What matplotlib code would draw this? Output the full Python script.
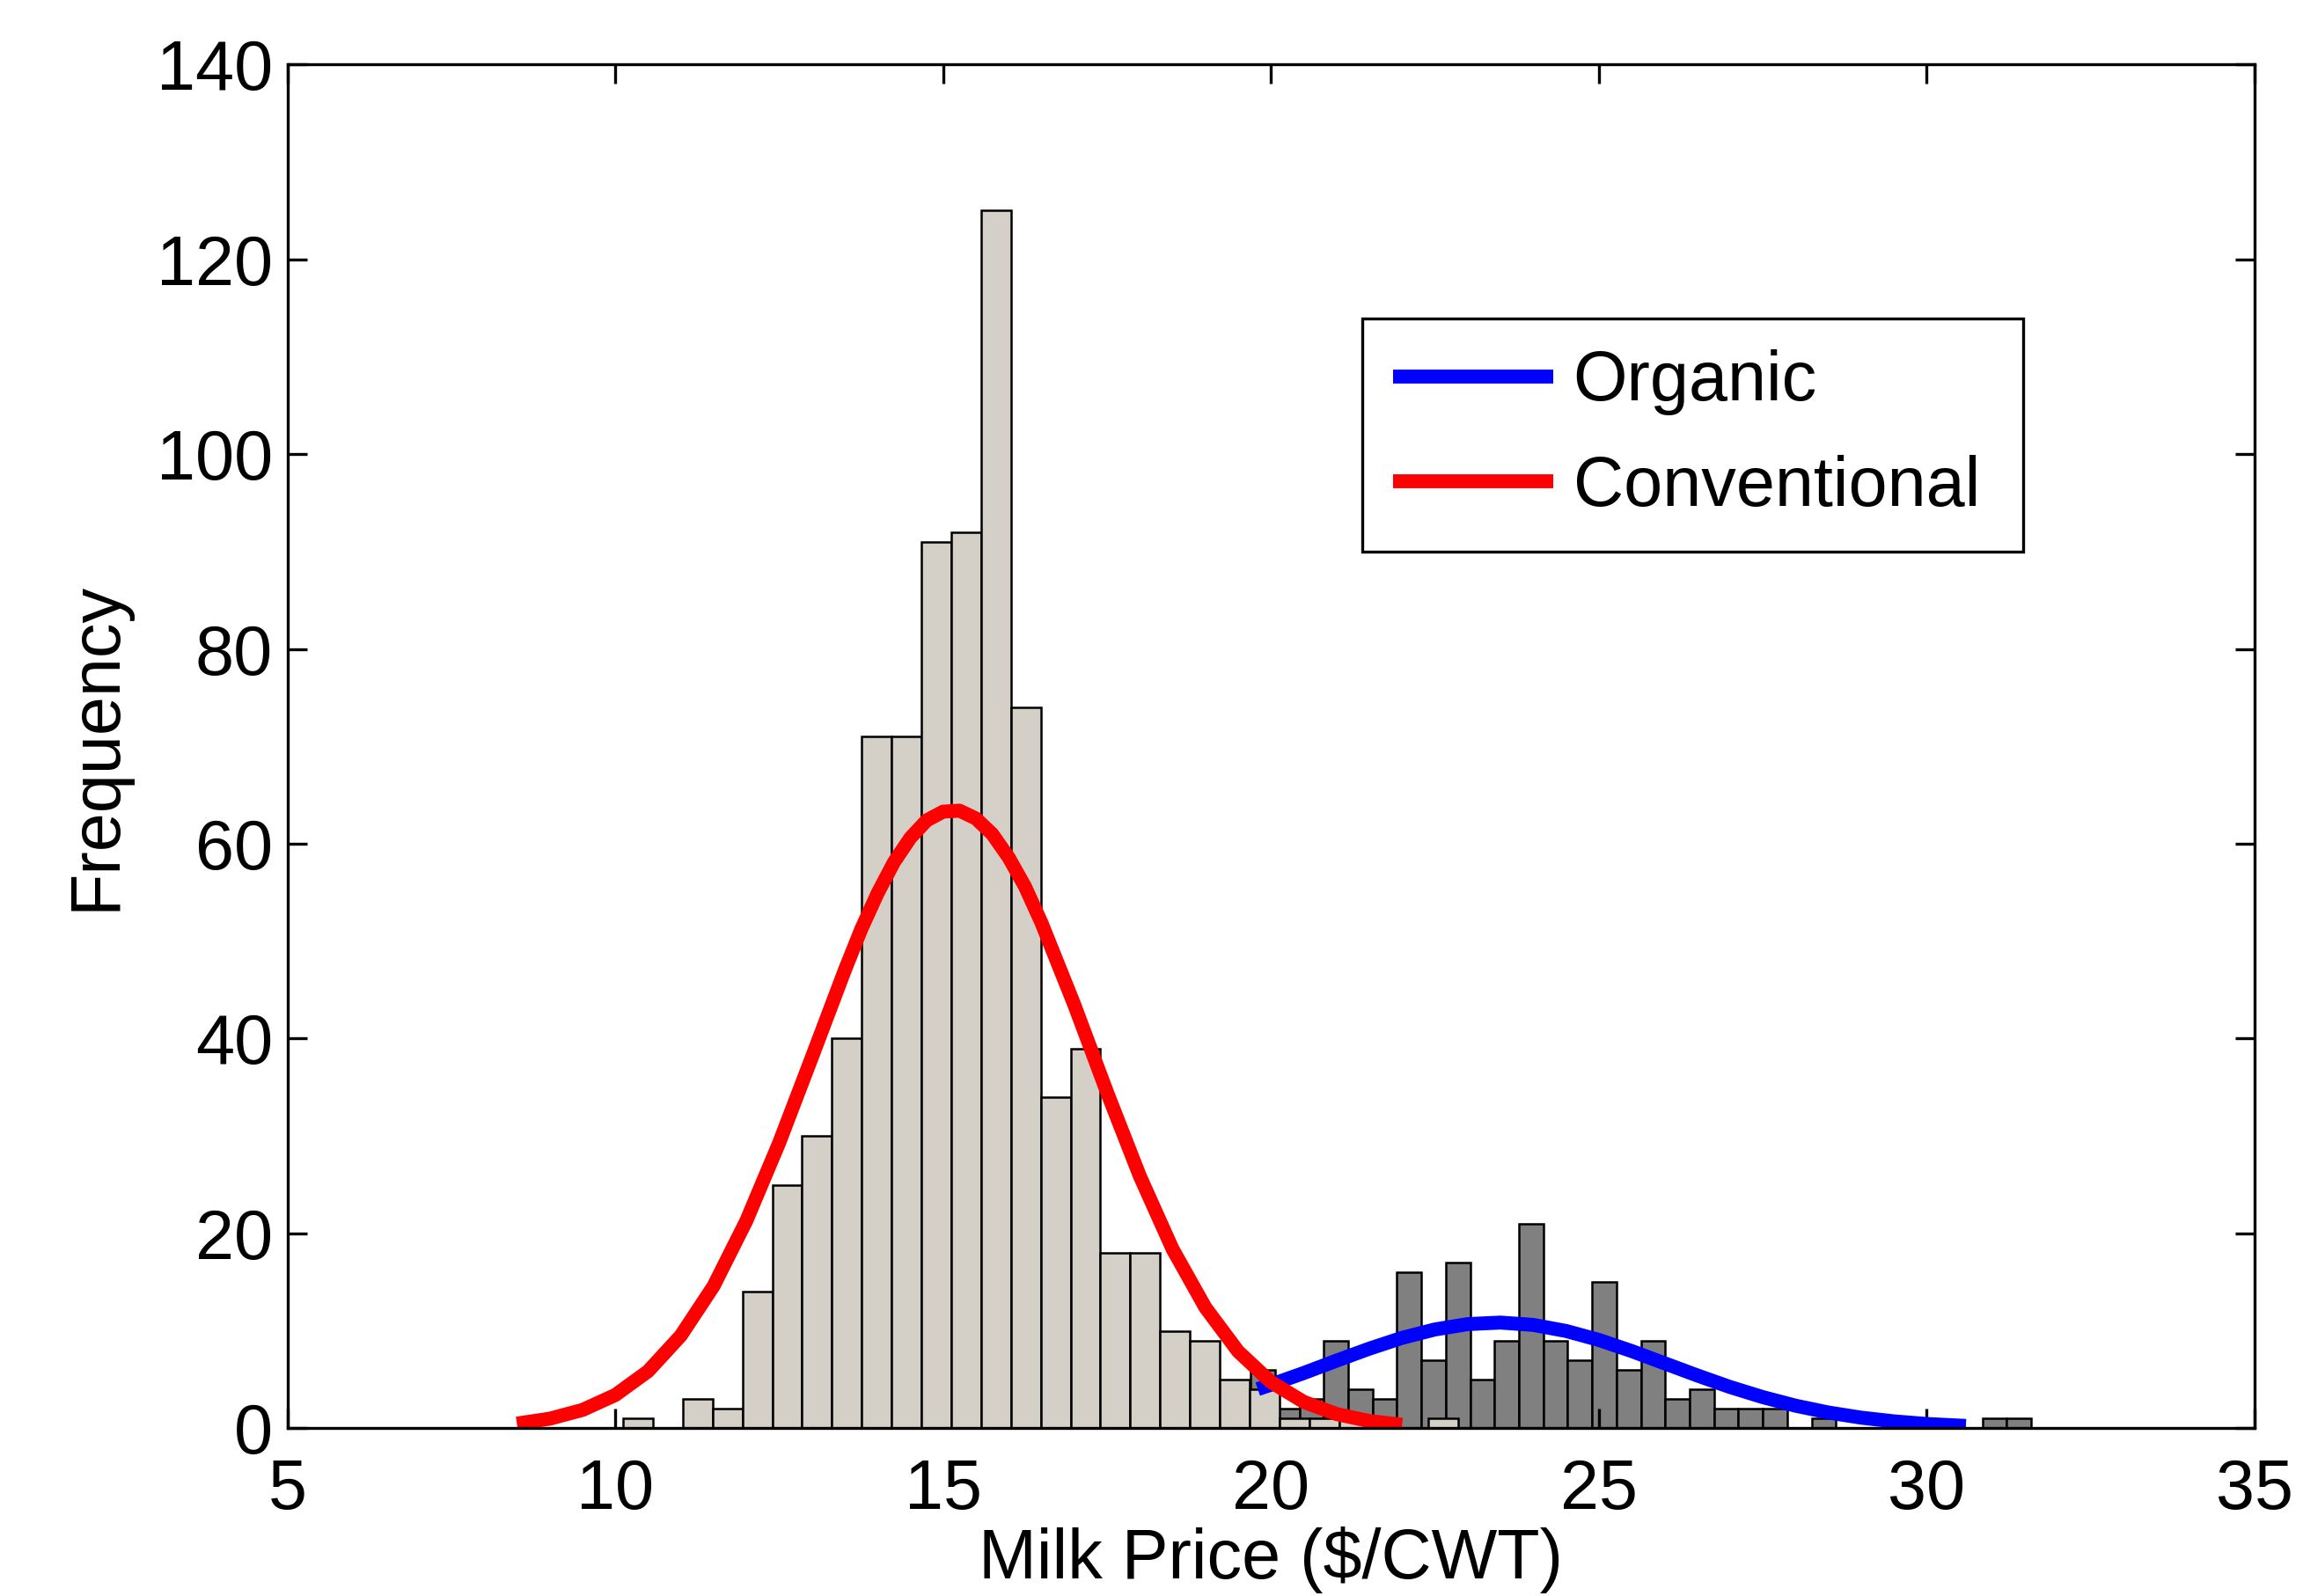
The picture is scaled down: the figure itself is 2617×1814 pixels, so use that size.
import matplotlib
matplotlib.use('Agg')
import matplotlib.pyplot as plt
import numpy as np

# histogram counts
conv_first_edge = 10.12
conv_bin_width = 0.455
conv_counts = [1, 0, 3, 2, 14, 25, 30, 40, 71, 71, 91, 92, 125, 74, 34, 39,
               18, 18, 10, 9, 5, 4, 1, 1, 1, 0, 0, 1]

org_first_edge = 19.69
org_bin_width = 0.372
org_counts = [6, 2, 3, 9, 4, 3, 16, 7, 17, 5, 9, 21, 9, 7, 15, 6, 9, 3,
              4, 2, 2, 2, 0, 1, 0, 0, 0, 0, 0, 0, 1, 1]

# fitted curves
conv_fit_x = [8.5, 9.0, 9.5, 10.0, 10.5, 11.0, 11.5, 12.0, 12.5, 13.0, 13.5, 13.75,
              14.0, 14.25, 14.5, 14.75, 15.0, 15.25, 15.5, 15.75, 16.0, 16.25, 16.5,
              17.0, 17.5, 18.0, 18.5, 19.0, 19.5, 20.0, 20.5, 21.0, 21.5, 22.0]
conv_fit_y = [0.48, 0.98, 1.88, 3.41, 5.85, 9.51, 14.6, 21.3, 29.3, 38.1, 47.0, 51.2,
              54.9, 58.1, 60.6, 62.4, 63.3, 63.4, 62.6, 61.0, 58.6, 55.6, 51.9,
              43.5, 34.5, 25.9, 18.4, 12.4, 7.89, 4.75, 2.71, 1.46, 0.74, 0.36]

org_fit_x = [19.8, 20.0, 20.5, 21.0, 21.5, 22.0, 22.5, 23.0, 23.5, 24.0, 24.5, 25.0,
             25.5, 26.0, 26.5, 27.0, 27.5, 28.0, 28.5, 29.0, 29.5, 30.0, 30.6]
org_fit_y = [4.02, 4.47, 5.67, 6.94, 8.17, 9.28, 10.14, 10.69, 10.85, 10.61, 9.99, 9.07,
             7.93, 6.68, 5.43, 4.24, 3.20, 2.32, 1.62, 1.09, 0.71, 0.44, 0.24]

labels = ['Organic', 'Conventional']

plt.rcParams['font.family'] = ['Liberation Sans', 'DejaVu Sans']
plt.rcParams['font.size'] = 19

fig = plt.figure(figsize=(2617 / 300, 1814 / 300), dpi=300)
ax = fig.add_axes([0.1248, 0.1051, 0.8541, 0.8545])

org_edges = org_first_edge + org_bin_width * np.arange(len(org_counts))
conv_edges = conv_first_edge + conv_bin_width * np.arange(len(conv_counts))

ax.bar(org_edges, org_counts, width=org_bin_width, align='edge',
       color='#808080', edgecolor='black', linewidth=0.6, zorder=1)
ax.bar(conv_edges, conv_counts, width=conv_bin_width, align='edge',
       color='#d4d0c8', edgecolor='black', linewidth=0.6, zorder=2)

ax.plot(org_fit_x, org_fit_y, color='#0000ff', lw=3.8, solid_capstyle='butt',
        zorder=3, label=labels[0])
ax.plot(conv_fit_x, conv_fit_y, color='#ff0000', lw=3.8, solid_capstyle='butt',
        zorder=4, label=labels[1])

ax.set_xlim(5, 35)
ax.set_ylim(0, 140)
ax.set_xticks(range(5, 36, 5))
ax.set_yticks(range(0, 141, 20))
ax.tick_params(direction='in', length=5.3, width=0.8, top=True, right=True)
ax.tick_params(axis='x', pad=8)
ax.tick_params(axis='y', pad=4)
for s in ax.spines.values():
    s.set_linewidth(0.8)
    s.set_zorder(5)

ax.set_xlabel('Milk Price ($/CWT)')
ax.set_ylabel('Frequency')
ax.xaxis.set_label_coords(0.5, -0.072)
ax.yaxis.set_label_coords(-0.08, 0.5)

leg = ax.legend(loc='upper left', bbox_to_anchor=(0.5463, 0.8139, 0.3362, 0.0),
                mode='expand', borderaxespad=0,
                fancybox=False, framealpha=1, edgecolor='black', handlelength=2.3,
                handletextpad=0.28, labelspacing=0.56, borderpad=0.45)
leg.get_frame().set_linewidth(0.8)

fig.savefig('out.png', dpi=300)
